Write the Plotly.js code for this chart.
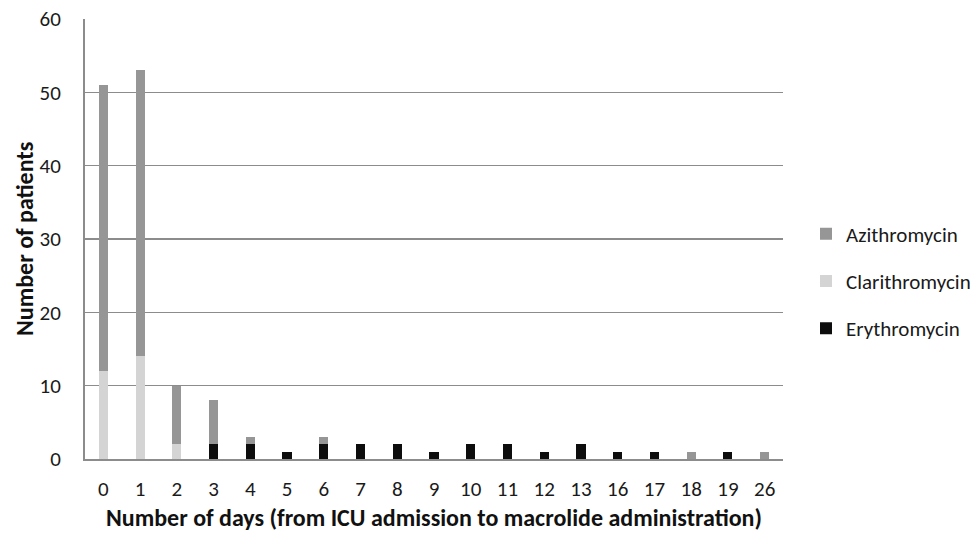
<!DOCTYPE html>
<html>
<head>
<meta charset="utf-8">
<script src="https://cdn.plot.ly/plotly-3.0.1.min.js"></script>
<style>html,body{margin:0;padding:0;background:#fff;}#chart{width:975px;height:535px;}</style>
</head>
<body>
<div id="chart"></div>
<script>
const days = ["0","1","2","3","4","5","6","7","8","9","10","11","12","13","16","17","18","19","26"];
const erythromycin   = [0,0,0,2,2,1,2,2,2,1,2,2,1,2,1,1,0,1,0];
const clarithromycin = [12,14,2,0,0,0,0,0,0,0,0,0,0,0,0,0,0,0,0];
const azithromycin   = [39,39,8,6,1,0,1,0,0,0,0,0,0,0,0,0,1,0,1];
const xTitle = "Number of days (from ICU admission to macrolide administration)";
const yTitle = "Number of patients";

const font = "Carlito, Calibri, 'Open Sans', 'Liberation Sans', sans-serif";
const traces = [
  {name:"Erythromycin", x:days, y:erythromycin, type:"bar", marker:{color:"#0d0d0d"}, legendrank:3, legendgroup:"e"},
  {name:"Clarithromycin", x:days, y:clarithromycin, type:"bar", marker:{color:"#d4d4d4"}, legendrank:2, legendgroup:"c"},
  {name:"Azithromycin", x:days, y:azithromycin, type:"bar", marker:{color:"#969696"}, legendrank:1, legendgroup:"a"}
];
const layout = {
  width:975, height:535,
  barmode:"stack", bargap:0.75,
  margin:{l:85, r:192, t:19, b:76},
  paper_bgcolor:"#fff", plot_bgcolor:"#fff",
  font:{family:font, size:21, color:"#1a1a1a"},
  xaxis:{type:"category", showgrid:false, showline:true, linecolor:"#8c8c8c", linewidth:2,
         ticks:"", tickfont:{size:21, color:"#1a1a1a"}, automargin:false, ticklabelstandoff:10},
  yaxis:{range:[0,60], dtick:10, showgrid:true, gridcolor:"#8c8c8c", gridwidth:1.5,
         showline:true, linecolor:"#8c8c8c", linewidth:2, zeroline:false, ticks:"",
         ticklabelstandoff:18,
         tickfont:{size:21, color:"#1a1a1a"}, automargin:false},
  annotations:[
    {text:"<b>" + xTitle + "</b>", xref:"paper", yref:"paper", x:0.5, y:0,
     xanchor:"center", yanchor:"middle", yshift:-58, showarrow:false, font:{size:24, color:"#111"}},
    {text:"<b>" + yTitle + "</b>", xref:"paper", yref:"paper", x:0, y:0.5, textangle:-90,
     xanchor:"center", yanchor:"middle", xshift:-61, showarrow:false, font:{size:24, color:"#111"}}
  ],
  legend:{xref:"container", yref:"container", x:806/975, y:1-281/535, yanchor:"middle", xanchor:"left",
          traceorder:"grouped", tracegroupgap:17, font:{size:21, color:"#1a1a1a"}, itemwidth:30,
          bgcolor:"rgba(0,0,0,0)"},
  showlegend:true
};
Plotly.newPlot("chart", traces, layout, {displayModeBar:false, staticPlot:true});
</script>
</body>
</html>
